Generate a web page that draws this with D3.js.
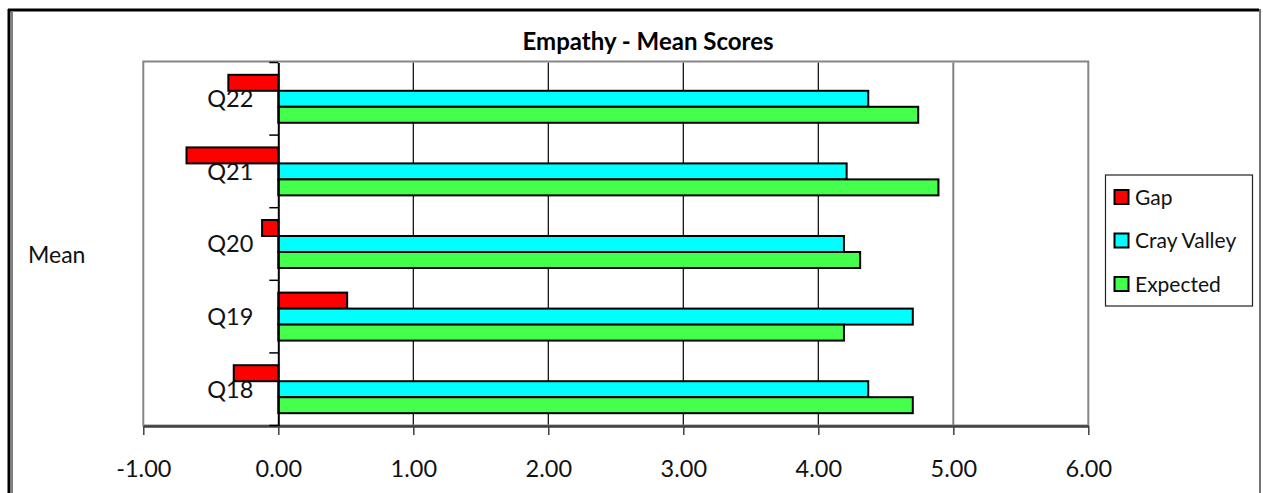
<!DOCTYPE html>
<html><head><meta charset="utf-8">
<script src="https://cdn.jsdelivr.net/npm/d3@7"></script>
<style>html,body{margin:0;padding:0;background:#fff;}svg{display:block;}</style>
</head><body>
<svg id="chart" width="1263" height="493"></svg>
<script>
const categories = ["Q22", "Q21", "Q20", "Q19", "Q18"];
const seriesNames = ["Gap", "Cray Valley", "Expected"];
const gapValues = [-0.37, -0.68, -0.12, 0.51, -0.33];
const crayValleyValues = [4.37, 4.21, 4.19, 4.70, 4.37];
const expectedValues = [4.74, 4.89, 4.31, 4.19, 4.70];
const xTicks = [-1, 0, 1, 2, 3, 4, 5, 6];
const titleText = "Empathy - Mean Scores";
const yTitle = "Mean";

const colors = {"Gap": "#ff0000", "Cray Valley": "#00ffff", "Expected": "#44ff4c"};
const seriesValues = {"Gap": gapValues, "Cray Valley": crayValleyValues, "Expected": expectedValues};

const svg = d3.select("#chart");
const font = "Lato, 'Open Sans', sans-serif";

// outer frame
svg.append("line").attr("x1", 9).attr("y1", 9).attr("x2", 9).attr("y2", 493).attr("stroke", "#000").attr("stroke-width", 3);
svg.append("line").attr("x1", 8).attr("y1", 10).attr("x2", 1259).attr("y2", 10).attr("stroke", "#000").attr("stroke-width", 3);
svg.append("line").attr("x1", 12).attr("y1", 12).attr("x2", 12).attr("y2", 493).attr("stroke", "#000").attr("stroke-width", 1);
svg.append("line").attr("x1", 1260).attr("y1", 9).attr("x2", 1260).attr("y2", 493).attr("stroke", "#444").attr("stroke-width", 1.5);

const plot = {left: 143.3, right: 1088.3, top: 62.5, bottom: 425.5};

const x = d3.scaleLinear().domain([-1, 6]).range([plot.left, plot.right]);
const y = d3.scaleBand().domain(categories).range([plot.top, plot.bottom]).padding(0);
const ySub = d3.scaleBand().domain(seriesNames).range([0, y.bandwidth()]).paddingInner(0).paddingOuter(0.77);

// title
svg.append("text").attr("x", 648).attr("y", 50).attr("text-anchor", "middle")
  .attr("font-family", font).attr("font-weight", "bold").attr("font-size", 24).attr("fill", "#000")
  .text(titleText);

// gridlines
svg.append("g").selectAll("line").data(xTicks.filter(t => t > 0 && t < 6)).join("line")
  .attr("x1", d => x(d)).attr("x2", d => x(d)).attr("y1", plot.top).attr("y2", plot.bottom)
  .attr("stroke", d => d === 5 ? "#808080" : "#000").attr("stroke-width", d => d === 5 ? 2 : 1.2);

// plot border
svg.append("rect").attr("x", plot.left).attr("y", plot.top - 1).attr("width", plot.right - plot.left)
  .attr("height", plot.bottom - plot.top + 1).attr("fill", "none").attr("stroke", "#858585").attr("stroke-width", 2);

// bars
const rows = [];
categories.forEach((c, i) => seriesNames.forEach(s => rows.push({cat: c, series: s, value: seriesValues[s][i]})));
svg.append("g").selectAll("rect").data(rows).join("rect")
  .attr("x", d => x(Math.min(0, d.value)))
  .attr("width", d => Math.abs(x(d.value) - x(0)))
  .attr("y", d => y(d.cat) + ySub(d.series))
  .attr("height", ySub.bandwidth())
  .attr("fill", d => colors[d.series])
  .attr("stroke", "#000").attr("stroke-width", 2);

// x axis
const fmt = d => d.toFixed(2);
const xAxis = d3.axisBottom(x).tickValues(xTicks).tickFormat(fmt).tickSize(9).tickSizeOuter(0);
const gx = svg.append("g").attr("transform", `translate(0,${plot.bottom + 0.5})`).call(xAxis);
gx.select(".domain").attr("stroke", "#404040").attr("stroke-width", 2.5);
gx.selectAll(".tick line").attr("stroke", "#404040").attr("stroke-width", 1.5);
gx.selectAll(".tick text").attr("font-family", font).attr("font-size", 23.5).attr("fill", "#111")
  .attr("dy", null).attr("y", 51);

// y axis at zero
const yAxis = d3.axisLeft(y).tickSize(0).tickPadding(25);
const gy = svg.append("g").attr("transform", `translate(${x(0)},0)`).call(yAxis);
gy.select(".domain").attr("stroke", "#000").attr("stroke-width", 2);
gy.selectAll(".tick text").attr("font-family", font).attr("font-size", 23.5).attr("fill", "#111").attr("dy", "0.36em");
// boundary ticks between categories
const bounds = categories.map(c => y(c)).concat([plot.bottom]);
svg.append("g").selectAll("line").data(bounds).join("line")
  .attr("x1", x(0) - 9).attr("x2", x(0)).attr("y1", d => d).attr("y2", d => d)
  .attr("stroke", "#000").attr("stroke-width", 1.5);

// y title
svg.append("text").attr("x", 28).attr("y", 263).attr("font-family", font).attr("font-size", 23).attr("fill", "#111").text(yTitle);

// legend
const lg = svg.append("g");
lg.append("rect").attr("x", 1105.5).attr("y", 175).attr("width", 147).attr("height", 131)
  .attr("fill", "#fff").attr("stroke", "#222").attr("stroke-width", 1.2);
const legendY = d3.scalePoint().domain(seriesNames).range([197, 284]);
lg.selectAll("rect.sw").data(seriesNames).join("rect").attr("class", "sw")
  .attr("x", 1114.5).attr("y", d => legendY(d) - 7).attr("width", 14).attr("height", 14)
  .attr("fill", d => colors[d]).attr("stroke", "#000").attr("stroke-width", 2);
lg.selectAll("text").data(seriesNames).join("text")
  .attr("x", 1135).attr("y", d => legendY(d)).attr("dy", "0.36em")
  .attr("font-family", font).attr("font-size", 21).attr("fill", "#111").text(d => d);
</script>
</body></html>
